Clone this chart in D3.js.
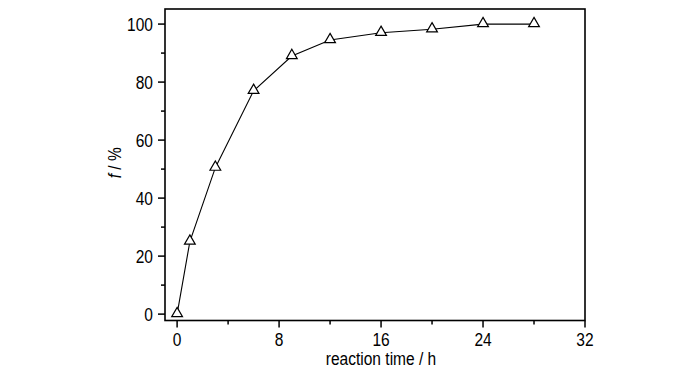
<!DOCTYPE html>
<html>
<head>
<meta charset="utf-8">
<script src="https://cdn.jsdelivr.net/npm/d3@7"></script>
<style>
  body { margin: 0; background: #fff; }
  text { font-family: "Liberation Sans", Arial, sans-serif; fill: #000; }
</style>
</head>
<body>
<div id="chart"></div>
<script>
// reaction time (h) vs conversion f (%)
const times = [0, 1, 3, 6, 9, 12, 16, 20, 24, 28];
const conversion = [0, 25, 50.5, 77, 89, 94.5, 97, 98.2, 100, 100];
const xTicks = [0, 8, 16, 24, 32];
const yTicks = [0, 20, 40, 60, 80, 100];

const width = 700, height = 373;
const plot = { left: 165, right: 585, top: 9, bottom: 320.5 };

const svg = d3.select("#chart").append("svg")
  .attr("width", width)
  .attr("height", height);

const x = d3.scaleLinear().domain([-0.95, 32]).range([plot.left, plot.right]);
const y = d3.scaleLinear().domain([-2.2, 105.2]).range([plot.bottom, plot.top]);

// minor ticks sit halfway between the labelled ones
const xMinor = d3.range(4, 32, 8);
const yMinor = d3.range(10, 100, 20);

const fontSize = 18.5;
const squeeze = 0.84; // no narrow font installed, so squash horizontally

// bottom axis
const gx = svg.append("g").attr("transform", `translate(0,${plot.bottom})`);
gx.selectAll(".major").data(xTicks).enter().append("line")
  .attr("x1", d => x(d)).attr("x2", d => x(d))
  .attr("y1", 0).attr("y2", 7)
  .attr("stroke", "#000").attr("stroke-width", 1.5);
gx.selectAll(".minor").data(xMinor).enter().append("line")
  .attr("x1", d => x(d)).attr("x2", d => x(d))
  .attr("y1", 0).attr("y2", 4)
  .attr("stroke", "#000").attr("stroke-width", 1.5);
gx.selectAll("text").data(xTicks).enter().append("text")
  .attr("transform", d => `translate(${x(d)},25) scale(${squeeze},1)`)
  .attr("text-anchor", "middle")
  .style("font-size", fontSize + "px")
  .text(d => d);

// left axis
const gy = svg.append("g").attr("transform", `translate(${plot.left},0)`);
gy.selectAll(".major").data(yTicks).enter().append("line")
  .attr("x1", -7).attr("x2", 0)
  .attr("y1", d => y(d)).attr("y2", d => y(d))
  .attr("stroke", "#000").attr("stroke-width", 1.5);
gy.selectAll(".minor").data(yMinor).enter().append("line")
  .attr("x1", -4).attr("x2", 0)
  .attr("y1", d => y(d)).attr("y2", d => y(d))
  .attr("stroke", "#000").attr("stroke-width", 1.5);
gy.selectAll("text").data(yTicks).enter().append("text")
  .attr("transform", d => `translate(-12,${y(d)}) scale(${squeeze},1)`)
  .attr("dy", "0.36em")
  .attr("text-anchor", "end")
  .style("font-size", fontSize + "px")
  .text(d => d);

// frame
svg.append("rect")
  .attr("x", plot.left).attr("y", plot.top)
  .attr("width", plot.right - plot.left)
  .attr("height", plot.bottom - plot.top)
  .attr("fill", "none")
  .attr("stroke", "#000")
  .attr("stroke-width", 1.6);

// data line
const pts = times.map((t, i) => [t, conversion[i]]);
svg.append("path")
  .datum(pts)
  .attr("d", d3.line().x(d => x(d[0])).y(d => y(d[1])))
  .attr("fill", "none")
  .attr("stroke", "#000")
  .attr("stroke-width", 1.1);

// open triangle markers
const tri = d3.symbol().type(d3.symbolTriangle).size(50);
svg.selectAll(".marker").data(pts).enter().append("path")
  .attr("d", tri)
  .attr("transform", d => `translate(${x(d[0])},${y(d[1]) - 0.5})`)
  .attr("fill", "#fff")
  .attr("stroke", "#000")
  .attr("stroke-width", 1.2);

// axis titles
svg.append("text")
  .attr("transform", `translate(381,365) scale(${squeeze},1)`)
  .attr("text-anchor", "middle")
  .style("font-size", fontSize + "px")
  .text("reaction time / h");

const yl = svg.append("text")
  .attr("transform", `translate(121,${(plot.top + plot.bottom) / 2 - 2}) rotate(-90) scale(${squeeze},1)`)
  .attr("text-anchor", "middle")
  .style("font-size", fontSize + "px");
yl.append("tspan").style("font-style", "italic").text("f");
yl.append("tspan").text(" / %");
</script>
</body>
</html>
